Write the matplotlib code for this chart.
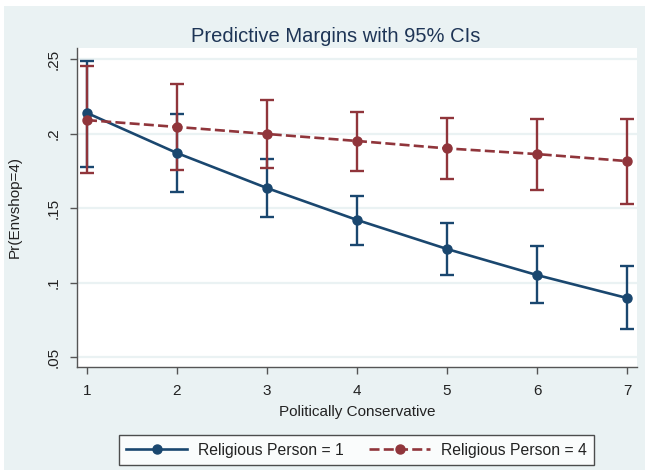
import matplotlib
matplotlib.use("Agg")
import matplotlib.pyplot as plt
from matplotlib.patches import Rectangle
from matplotlib.lines import Line2D
import numpy as np

plt.rcParams['font.family'] = ['Liberation Sans', 'DejaVu Sans']

x = [1, 2, 3, 4, 5, 6, 7]
rel1_mean = [0.2138, 0.1869, 0.1634, 0.1420, 0.1225, 0.1050, 0.0896]
rel1_upper = [0.2487, 0.2131, 0.1829, 0.1580, 0.1400, 0.1245, 0.1110]
rel1_lower = [0.1775, 0.1607, 0.1440, 0.1252, 0.1050, 0.0862, 0.0688]
rel4_mean = [0.2090, 0.2044, 0.1997, 0.1950, 0.1900, 0.1862, 0.1815]
rel4_upper = [0.2453, 0.2332, 0.2225, 0.2144, 0.2104, 0.2097, 0.2097]
rel4_lower = [0.1735, 0.1755, 0.1768, 0.1748, 0.1695, 0.1621, 0.1527]
yticks = [0.05, 0.10, 0.15, 0.20, 0.25]
yticklabels = ['.05', '.1', '.15', '.2', '.25']
labels = ['Religious Person = 1', 'Religious Person = 4']

blue = '#1a476f'
red = '#90353b'
bg = '#eaf2f3'

fig = plt.figure(figsize=(6.46, 4.70), dpi=100)
fig.patch.set_facecolor('white')
fig.patches.append(Rectangle((4/646, 0), 1 - 5/646, 1 - 6/470, transform=fig.transFigure,
                             facecolor=bg, edgecolor='none', zorder=-10))

ax = fig.add_axes([77/646, 1 - 367/470, 560/646, 319/470])
ax.set_facecolor('white')
ax.set_xlim(0.889, 7.111)
ax.set_ylim(0.0433, 0.2574)

for yt in yticks:
    ax.axhline(yt, color=bg, lw=1.6, zorder=0)

def draw_ci(mean, lo, hi, color, z):
    m = np.array(mean)
    yerr = [m - np.array(lo), np.array(hi) - m]
    ax.errorbar(x, mean, yerr=yerr, fmt='none', ecolor=color, elinewidth=1.7,
                capsize=5, capthick=1.7, zorder=z)

ms = 6.5
draw_ci(rel1_mean, rel1_lower, rel1_upper, blue, 2)
draw_ci(rel4_mean, rel4_lower, rel4_upper, red, 3)
ax.plot(x, rel1_mean, color=blue, lw=1.9, marker='o', ms=ms, zorder=4)
l4, = ax.plot(x, rel4_mean, color=red, lw=1.9, marker='o', ms=ms, zorder=5)
l4.set_dashes((3.8, 1.6))

for s in ['top', 'right']:
    ax.spines[s].set_visible(False)
for s in ['left', 'bottom']:
    ax.spines[s].set_color('#555555')
    ax.spines[s].set_linewidth(1.0)

ax.set_xticks(x)
ax.set_xticklabels([str(v) for v in x], fontsize=11)
ax.set_yticks(yticks)
ax.set_yticklabels(yticklabels, fontsize=11, rotation=90, va='center')
ax.tick_params(axis='both', direction='out', length=5, width=1.0, color='#555555',
               labelcolor='#222222')
ax.tick_params(axis='x', pad=7)
ax.tick_params(axis='y', pad=7)

ax.set_xlabel('Politically Conservative', fontsize=11, color='#222222')
ax.set_ylabel('Pr(Envshop=4)', fontsize=11, color='#222222')
ax.xaxis.set_label_coords(0.5, (367 - 412) / 319)
ax.xaxis.label.set_va('center')
ax.yaxis.set_label_coords((15 - 77) / 560, 0.5)
ax.yaxis.label.set_va('center')
fig.text(336 / 646, 1 - 37/470, 'Predictive Margins with 95% CIs',
         ha='center', va='center', fontsize=14.5, color='#1e3556')

h1 = Line2D([], [], color=blue, lw=1.9, marker='o', ms=ms)
h2 = Line2D([], [], color=red, lw=1.9, marker='o', ms=ms, dashes=(3.8, 1.6))
leg = fig.legend([h1, h2], labels, loc='center', ncol=2,
                 bbox_to_anchor=((113 + 600) / 2 / 646, 1 - 450 / 470),
                 fontsize=11.3, frameon=True, fancybox=False, handlelength=3.9,
                 columnspacing=1.6, handletextpad=0.7, borderpad=0.45)
leg.get_frame().set_edgecolor('#222222')
leg.get_frame().set_linewidth(1.0)
for t in leg.get_texts():
    t.set_color('#222222')

fig.savefig('out.png', dpi=100, facecolor=fig.get_facecolor())
